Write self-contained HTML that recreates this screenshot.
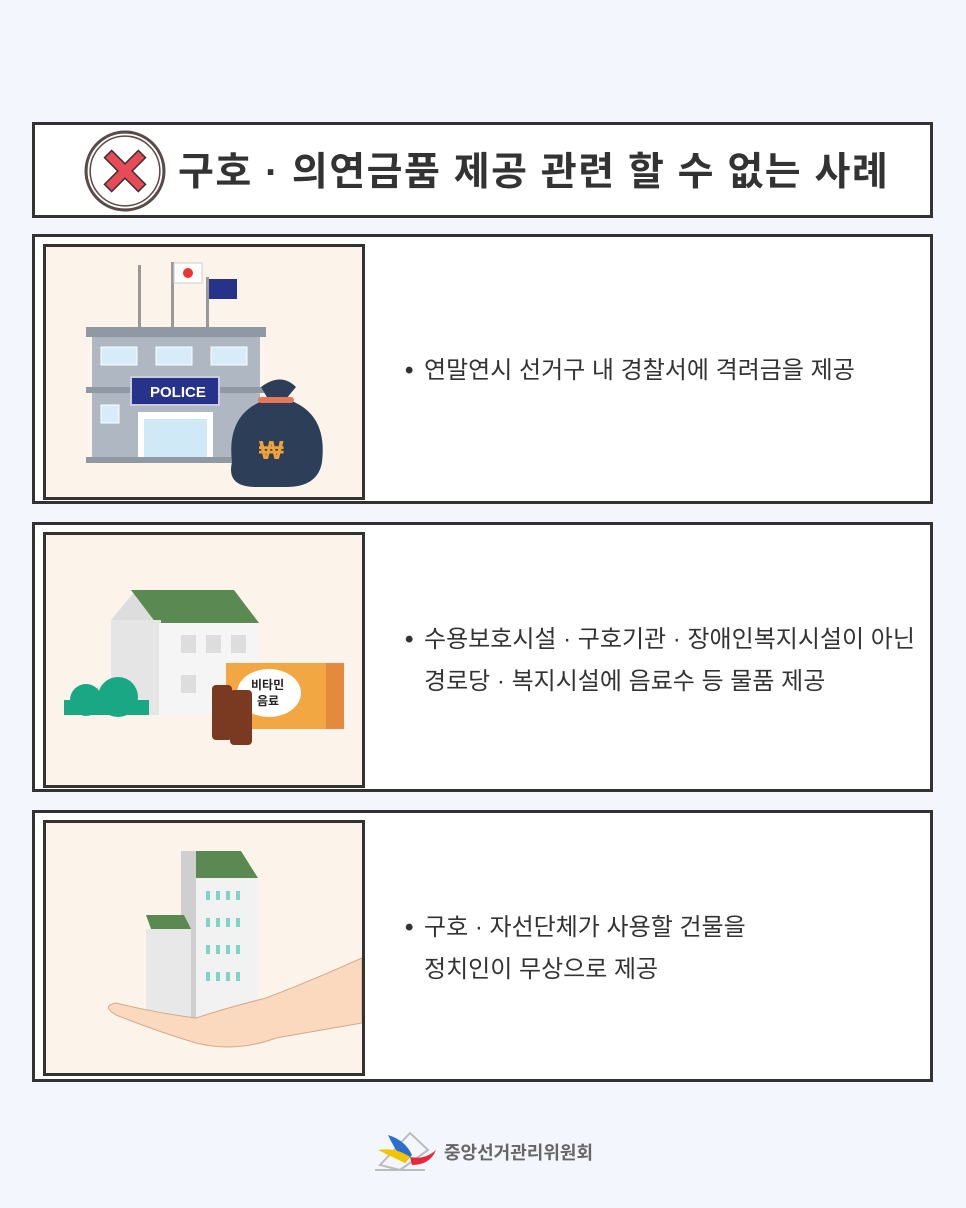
<!DOCTYPE html>
<html><head><meta charset="utf-8"><style>
body{margin:0;width:966px;height:1208px;background:#f3f7fd;font-family:"Liberation Sans","Noto Sans CJK KR",sans-serif;position:relative;overflow:hidden}
.box{position:absolute;left:32px;width:895px;background:#fff;border:3px solid #333}
.pan{position:absolute;left:8px;top:7px;width:316px;height:250px;background:#fcf4ea;border:3px solid #333;overflow:hidden}
.txt{position:absolute;left:389px;font-size:24px;color:#333;line-height:42px;white-space:nowrap}
.txt b{position:absolute;left:-19px;font-weight:bold}
.title{position:absolute;left:143px;top:16px;font-size:39px;font-weight:bold;color:#333;letter-spacing:1.5px;white-space:nowrap}
</style></head><body>
<div class="box" style="top:122px;height:90px">
<svg style="position:absolute;left:49px;top:5px" width="82" height="82" viewBox="0 0 80 80"><circle cx="40" cy="40" r="38" fill="#fff" stroke="#5a4a48" stroke-width="3"/><circle cx="40" cy="40" r="34" fill="none" stroke="#5a4a48" stroke-width="1.5"/><path d="M20 27 L27 20 L40 33 L53 20 L60 27 L47 40 L60 53 L53 60 L40 47 L27 60 L20 53 L33 40 Z" fill="#e84a56" stroke="#333" stroke-width="1.5"/></svg>
<div class="title">구호 · 의연금품 제공 관련 할 수 없는 사례</div>
</div>

<div class="box" style="top:234px;height:264px">
<div class="pan"><svg width="316" height="250">
<rect x="92" y="18" width="3" height="70" fill="#999"/><rect x="125" y="15" width="3" height="73" fill="#999"/><rect x="160" y="30" width="3" height="58" fill="#999"/>
<rect x="128" y="16" width="28" height="20" fill="#fff" stroke="#ccc"/><circle cx="142" cy="26" r="5" fill="#e33"/>
<rect x="163" y="32" width="28" height="20" fill="#27338a"/>
<rect x="40" y="80" width="180" height="10" fill="#8f99a4"/><rect x="46" y="90" width="168" height="120" fill="#aeb7c2"/>
<g fill="#d7ecf8" stroke="#fff"><rect x="55" y="100" width="36" height="18"/><rect x="110" y="100" width="36" height="18"/><rect x="165" y="100" width="36" height="18"/><rect x="55" y="158" width="18" height="18"/></g>
<rect x="40" y="140" width="180" height="6" fill="#8f99a4"/>
<rect x="85" y="130" width="88" height="28" fill="#27338a" stroke="#ccd" stroke-width="2"/><text x="104" y="150" font-size="15" font-weight="bold" fill="#fff" font-family="Liberation Sans">POLICE</text>
<rect x="92" y="165" width="75" height="50" fill="#fff"/><rect x="98" y="172" width="63" height="43" fill="#cfe9f7"/>
<rect x="40" y="210" width="180" height="6" fill="#8f99a4"/>
<path d="M215 140 Q235 125 250 140 L240 152 Q282 165 276 215 Q272 240 240 240 L210 240 Q180 240 186 215 Q180 165 222 152 Z" fill="#2c3e58"/>
<rect x="212" y="150" width="36" height="6" rx="3" fill="#e8775a"/>
<text x="213" y="212" font-size="26" fill="#f0a23a" font-weight="bold">₩</text>
</svg></div>
<div class="txt" style="top:113px"><b>•</b>연말연시 선거구 내 경찰서에 격려금을 제공</div>
</div>

<div class="box" style="top:522px;height:264px">
<div class="pan"><svg width="316" height="250">
<path d="M65 85 L90 55 L115 85 Z" fill="#ddd"/><path d="M85 55 L188 55 L213 88 L110 88 Z" fill="#5a8a52"/>
<rect x="65" y="85" width="50" height="95" fill="#e5e5e5"/><rect x="113" y="88" width="100" height="92" fill="#f5f5f5"/>
<g fill="#ddd"><rect x="135" y="100" width="15" height="18"/><rect x="160" y="100" width="15" height="18"/><rect x="185" y="100" width="15" height="18"/><rect x="135" y="140" width="15" height="18"/></g>
<circle cx="40" cy="165" r="16" fill="#1aa884"/><circle cx="72" cy="162" r="20" fill="#1aa884"/><rect x="18" y="165" width="85" height="15" fill="#1aa884"/>
<rect x="180" y="128" width="118" height="66" fill="#f2a742"/><rect x="280" y="128" width="18" height="66" fill="#e48a3d"/>
<ellipse cx="223" cy="158" rx="32" ry="24" fill="#fff"/><text x="205" y="154" font-size="12" font-weight="bold" fill="#222">비타민</text><text x="211" y="170" font-size="12" font-weight="bold" fill="#222">음료</text>
<rect x="166" y="150" width="20" height="55" rx="4" fill="#7a3a22"/><rect x="184" y="155" width="22" height="55" rx="4" fill="#7a3a22"/>
</svg></div>
<div class="txt" style="top:94px"><b>•</b>수용보호시설 · 구호기관 · 장애인복지시설이 아닌<br>경로당 · 복지시설에 음료수 등 물품 제공</div>
</div>

<div class="box" style="top:810px;height:266px">
<div class="pan"><svg width="316" height="252">
<path d="M135 28 L195 28 L212 55 L150 55 Z" fill="#5a8a52"/><rect x="135" y="28" width="15" height="170" fill="#cfcfcf"/><rect x="150" y="55" width="62" height="143" fill="#f2f2f2"/>
<g fill="#7dd5c5"><rect x="160" y="68" width="4" height="9"/><rect x="170" y="68" width="4" height="9"/><rect x="180" y="68" width="4" height="9"/><rect x="190" y="68" width="4" height="9"/><rect x="160" y="95" width="4" height="9"/><rect x="170" y="95" width="4" height="9"/><rect x="180" y="95" width="4" height="9"/><rect x="190" y="95" width="4" height="9"/><rect x="160" y="122" width="4" height="9"/><rect x="170" y="122" width="4" height="9"/><rect x="180" y="122" width="4" height="9"/><rect x="190" y="122" width="4" height="9"/><rect x="160" y="149" width="4" height="9"/><rect x="170" y="149" width="4" height="9"/><rect x="180" y="149" width="4" height="9"/><rect x="190" y="149" width="4" height="9"/></g>
<path d="M100 92 L138 92 L145 106 L105 106 Z" fill="#5a8a52"/><rect x="100" y="106" width="45" height="92" fill="#e8e8e8"/>
<path d="M316 135 Q260 160 220 175 Q180 185 150 195 Q110 190 70 180 Q55 183 70 192 Q110 208 150 220 Q190 230 230 215 L316 200 Z" fill="#fbd9bf" stroke="#d8a88a"/>
</svg></div>
<div class="txt" style="top:94px"><b>•</b>구호 · 자선단체가 사용할 건물을<br>정치인이 무상으로 제공</div>
</div>

<svg style="position:absolute;left:370px;top:1125px" width="70" height="50"><path d="M10 40 L40 8 L58 25 L30 45 Z" fill="none" stroke="#bbb" stroke-width="2"/><line x1="5" y1="45" x2="55" y2="45" stroke="#bbb" stroke-width="2"/><path d="M18 10 Q35 15 42 30 L35 38 Q25 25 18 10Z" fill="#2a6fd0"/><path d="M8 25 Q25 22 40 32 L35 38Z" fill="#f3c400"/><path d="M40 32 Q55 35 66 25 Q60 40 42 40Z" fill="#e5283a"/></svg>
<div style="position:absolute;left:444px;top:1139px;font-size:18px;color:#666;font-weight:bold">중앙선거관리위원회</div>
</body></html>
